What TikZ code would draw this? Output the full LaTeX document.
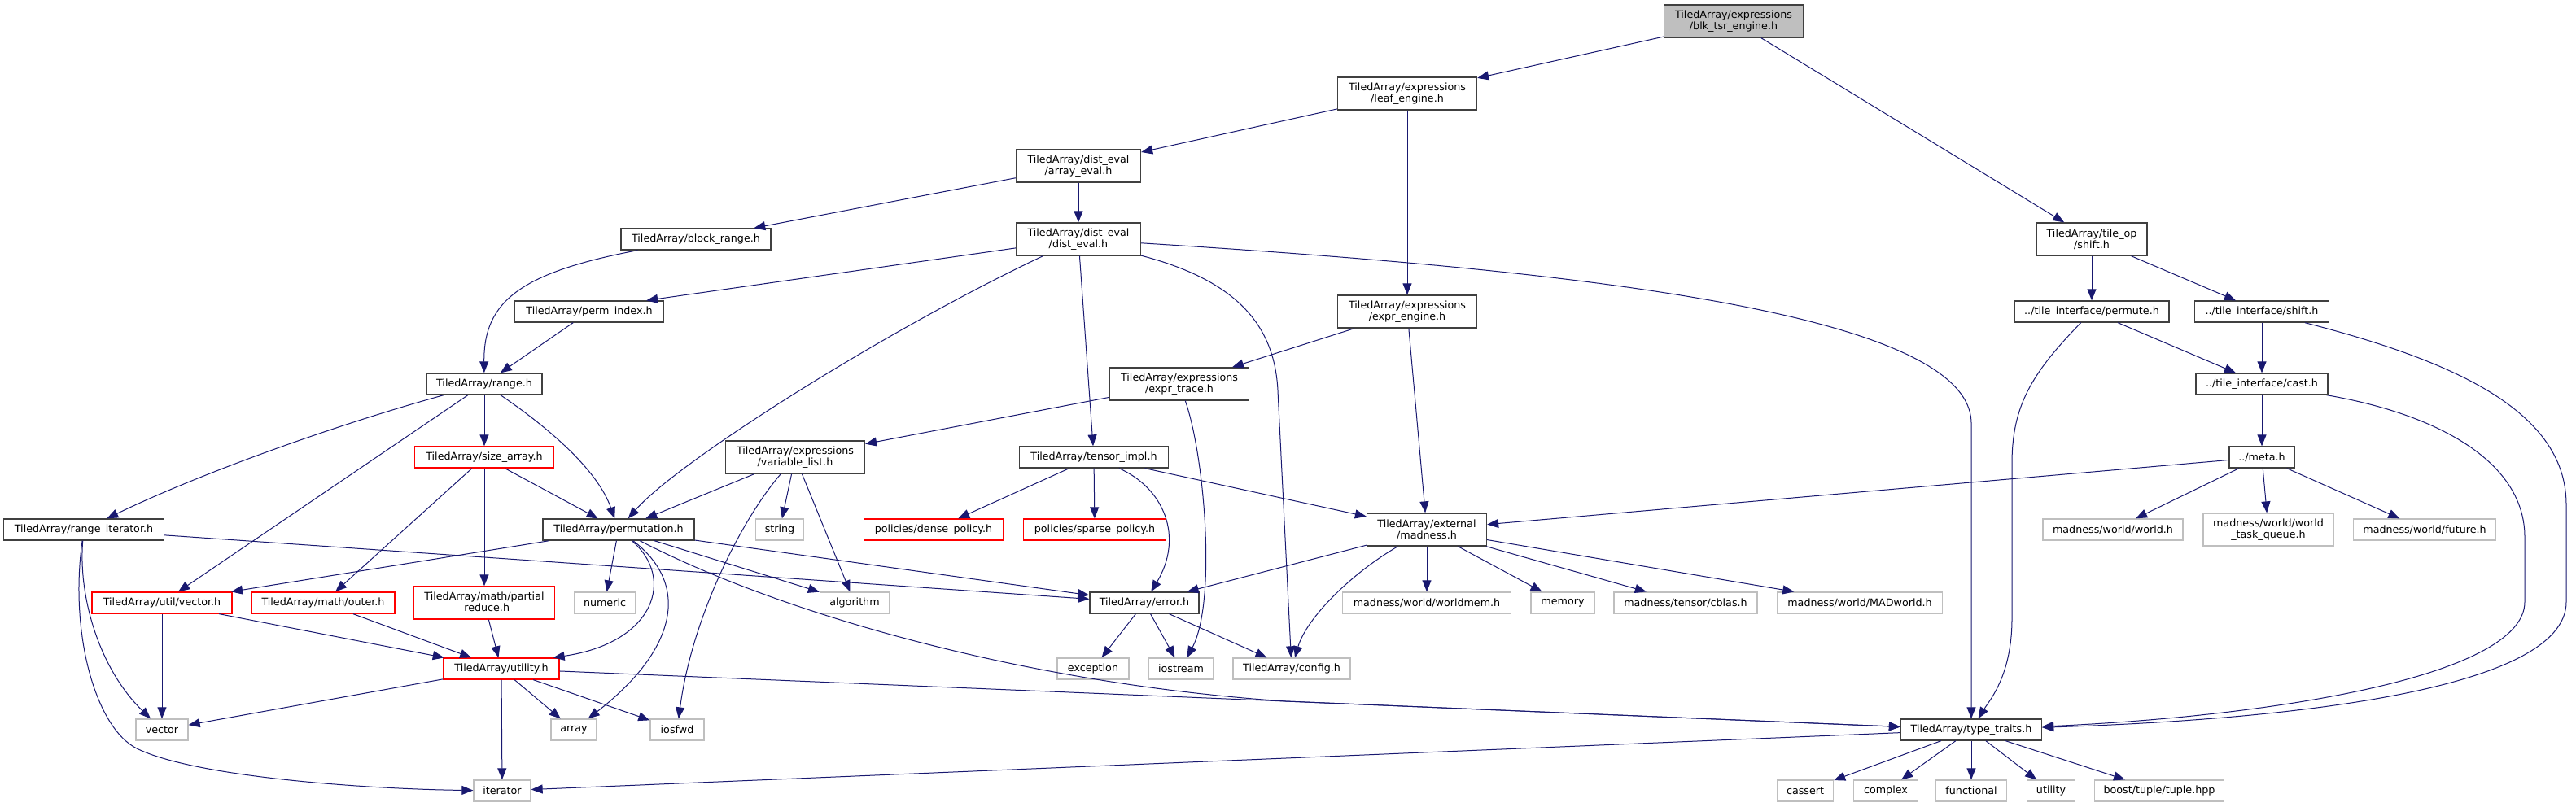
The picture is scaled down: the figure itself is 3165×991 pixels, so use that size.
\documentclass[tikz,border=0pt]{standalone}
\usepackage{fontspec}
\usetikzlibrary{arrows.meta,calc}
\newfontfamily\doxfamily{DejaVu Sans}
\newcommand\doxfont{\doxfamily\fontsize{12.7pt}{14.3pt}\selectfont}
\definecolor{edgeblue}{HTML}{191970}
\definecolor{sysgray}{HTML}{BFBFBF}
\definecolor{rootfill}{HTML}{BFBFBF}
\definecolor{boxborder}{HTML}{404040}
\begin{document}
\begin{tikzpicture}[x=1pt,y=-1pt,
 box/.style={draw=boxborder,line width=1.3pt,fill=white,inner sep=0pt,align=center,font=\doxfont,minimum height=26pt},
 dbl/.style={minimum height=40pt},
 root/.style={fill=rootfill},
 sys/.style={draw=sysgray},
 trunc/.style={draw=red},
 e/.style={draw=edgeblue,line width=1.0pt,-{Triangle[length=14pt,width=11pt]}}]
\fill[white] (0,0) rectangle (3165,991);
\useasboundingbox (0,0) rectangle (3165,991);
% rank 0-3
\node[box,dbl,root,minimum width=171pt] (blk) at (2130,26) {TiledArray/expressions\\/blk\_tsr\_engine.h};
\node[box,dbl,minimum width=171pt] (leaf) at (1729,115) {TiledArray/expressions\\/leaf\_engine.h};
\node[box,dbl,minimum width=153pt] (arrayeval) at (1325,204) {TiledArray/dist\_eval\\/array\_eval.h};
\node[box,minimum width=184pt] (blockrange) at (855,294) {TiledArray/block\_range.h};
\node[box,dbl,minimum width=153pt] (disteval) at (1325,294) {TiledArray/dist\_eval\\/dist\_eval.h};
\node[box,dbl,minimum width=136pt] (tileopshift) at (2570,294) {TiledArray/tile\_op\\/shift.h};
% rank 4
\node[box,minimum width=183pt] (permindex) at (724,383) {TiledArray/perm\_index.h};
\node[box,dbl,minimum width=171pt] (exprengine) at (1729,383) {TiledArray/expressions\\/expr\_engine.h};
\node[box,minimum width=190pt] (permute) at (2570,383) {../tile\_interface/permute.h};
\node[box,minimum width=165pt] (tishift) at (2779,383) {../tile\_interface/shift.h};
% rank 5
\node[box,minimum width=142pt] (range) at (595,472) {TiledArray/range.h};
\node[box,dbl,minimum width=171pt] (exprtrace) at (1449,472) {TiledArray/expressions\\/expr\_trace.h};
\node[box,minimum width=162pt] (cast) at (2779,472) {../tile\_interface/cast.h};
% rank 6
\node[box,trunc,minimum width=171pt] (sizearray) at (595,562) {TiledArray/size\_array.h};
\node[box,dbl,minimum width=171pt] (varlist) at (977,562) {TiledArray/expressions\\/variable\_list.h};
\node[box,minimum width=183pt] (tensorimpl) at (1344,562) {TiledArray/tensor\_impl.h};
\node[box,minimum width=80pt] (meta) at (2779,562) {../meta.h};
% rank 7
\node[box,minimum width=197pt] (rangeiter) at (103,651) {TiledArray/range\_iterator.h};
\node[box,minimum width=186pt] (permutation) at (760,651) {TiledArray/permutation.h};
\node[box,sys,minimum width=59pt] (string) at (958,651) {string};
\node[box,trunc,minimum width=171pt] (dense) at (1147,651) {policies/dense\_policy.h};
\node[box,trunc,minimum width=175pt] (sparse) at (1345,651) {policies/sparse\_policy.h};
\node[box,dbl,minimum width=147pt] (madness) at (1753,651) {TiledArray/external\\/madness.h};
\node[box,sys,minimum width=172pt] (world) at (2596,651) {madness/world/world.h};
\node[box,dbl,sys,minimum width=160pt] (taskqueue) at (2787,651) {madness/world/world\\\_task\_queue.h};
\node[box,sys,minimum width=175pt] (future) at (2979,651) {madness/world/future.h};
% rank 8
\node[box,trunc,minimum width=172pt] (utilvector) at (199,741) {TiledArray/util/vector.h};
\node[box,trunc,minimum width=176pt] (outer) at (397,741) {TiledArray/math/outer.h};
\node[box,dbl,trunc,minimum width=173pt] (partialreduce) at (595,741) {TiledArray/math/partial\\\_reduce.h};
\node[box,sys,minimum width=75pt] (numeric) at (743,741) {numeric};
\node[box,sys,minimum width=85pt] (algorithm) at (1050,741) {algorithm};
\node[box,minimum width=134pt] (error) at (1406,741) {TiledArray/error.h};
\node[box,sys,minimum width=207pt] (worldmem) at (1753,741) {madness/world/worldmem.h};
\node[box,sys,minimum width=78pt] (memory) at (1920,741) {memory};
\node[box,sys,minimum width=176pt] (cblas) at (2071,741) {madness/tensor/cblas.h};
\node[box,sys,minimum width=203pt] (madworld) at (2285,741) {madness/world/MADworld.h};
% rank 9
\node[box,trunc,minimum width=142pt] (utility) at (616,822) {TiledArray/utility.h};
\node[box,sys,minimum width=88pt] (exception) at (1343,822) {exception};
\node[box,sys,minimum width=80pt] (iostream) at (1451,822) {iostream};
\node[box,sys,minimum width=144pt] (config) at (1587,822) {TiledArray/config.h};
% rank 10
\node[box,sys,minimum width=64pt] (vector) at (199,897) {vector};
\node[box,sys,minimum width=56pt] (array) at (705,897) {array};
\node[box,sys,minimum width=66pt] (iosfwd) at (832,897) {iosfwd};
\node[box,minimum width=173pt] (typetraits) at (2422,897) {TiledArray/type\_traits.h};
% rank 11
\node[box,sys,minimum width=70pt] (iterator) at (617,972) {iterator};
\node[box,sys,minimum width=69pt] (cassert) at (2218,972) {cassert};
\node[box,sys,minimum width=79pt] (complex) at (2317,972) {complex};
\node[box,sys,minimum width=87pt] (functional) at (2422,972) {functional};
\node[box,sys,minimum width=59pt] (utilstd) at (2520,972) {utility};
\node[box,sys,minimum width=159pt] (tuple) at (2653,972) {boost/tuple/tuple.hpp};
% edges
\draw[e] (blk) -- (leaf);
\draw[e] (blk) -- (tileopshift);
\draw[e] (leaf) -- (arrayeval);
\draw[e] (leaf) -- (exprengine);
\draw[e] (arrayeval) -- (blockrange);
\draw[e] (arrayeval) -- (disteval);
\draw[e] (blockrange) .. controls (640,335) and (594,370) .. (range);
\draw[e] (disteval) -- ($(permindex.north east)+(-22,0)$);
\draw[e] (disteval) .. controls (1080,410) and (830,570) .. (permutation);
\draw[e] (disteval) -- (tensorimpl);
\draw[e] (disteval) .. controls (1520,345) and (1566,400) .. (1570,480) -- (config);
\draw[e] (disteval) .. controls (1900,330) and (2421,380) .. (2422,520) -- (typetraits);
\draw[e] (tileopshift) -- (permute);
\draw[e] (tileopshift) -- (tishift);
\draw[e] (permindex) -- (range);
\draw[e] (exprengine) -- (exprtrace);
\draw[e] (exprengine) -- (madness);
\draw[e] (permute) -- (cast);
\draw[e] (permute) .. controls (2495,460) and (2472,500) .. (2472,570) -- (2472,760) .. controls (2472,830) and (2445,860) .. (typetraits);
\draw[e] (tishift) -- (cast);
\draw[e] (tishift) .. controls (3000,440) and (3153,500) .. (3153,620) -- (3153,740) .. controls (3153,850) and (2800,885) .. (typetraits);
\draw[e] (range) .. controls (420,520) and (250,580) .. (rangeiter);
\draw[e] (range) -- (utilvector);
\draw[e] (range) -- (sizearray);
\draw[e] (range) .. controls (680,530) and (735,580) .. (permutation);
\draw[e] (exprtrace) -- (varlist);
\draw[e] (exprtrace) .. controls (1480,560) and (1495,740) .. (iostream);
\draw[e] (cast) -- (meta);
\draw[e] (cast) .. controls (3000,510) and (3102,570) .. (3102,660) -- (3102,740) .. controls (3102,830) and (2800,880) .. (typetraits);
\draw[e] (varlist) -- (permutation);
\draw[e] (varlist) -- (string);
\draw[e] (varlist) -- (algorithm);
\draw[e] (varlist) .. controls (910,640) and (850,760) .. (iosfwd);
\draw[e] (sizearray) -- (permutation);
\draw[e] (sizearray) -- (outer);
\draw[e] (sizearray) -- (partialreduce);
\draw[e] (tensorimpl) -- (dense);
\draw[e] (tensorimpl) -- (sparse);
\draw[e] (tensorimpl) .. controls (1430,600) and (1455,660) .. (error);
\draw[e] (tensorimpl) -- (madness);
\draw[e] (meta) -- (madness);
\draw[e] (meta) -- (world);
\draw[e] (meta) -- (taskqueue);
\draw[e] (meta) -- (future);
\draw[e] (rangeiter) -- (error);
\draw[e] (rangeiter) .. controls (96,730) and (120,820) .. (vector);
\draw[e] (rangeiter) .. controls (85,780) and (118,895) .. (168,920) .. controls (238,955) and (450,970) .. (iterator);
\draw[e] (permutation) -- (utilvector);
\draw[e] (permutation) -- (numeric);
\draw[e] (permutation) -- (algorithm);
\draw[e] (permutation) -- (error);
\draw[e] (permutation) .. controls (830,710) and (805,790) .. ($(utility.north east)+(-8,0)$);
\draw[e] (permutation) .. controls (850,720) and (830,800) .. (array);
\draw[e] (permutation) .. controls (950,750) and (1250,840) .. (1580,862) -- (typetraits);
\draw[e] (utility) -- (typetraits);
\draw[e] (utility) -- (vector);
\draw[e] (utility) -- (iterator);
\draw[e] (utility) -- (array);
\draw[e] (utility) -- (iosfwd);
\draw[e] (error) -- (exception);
\draw[e] (error) -- (iostream);
\draw[e] (error) -- (config);
\draw[e] (madness) -- (error);
\draw[e] (madness) .. controls (1660,705) and (1605,760) .. (config);
\draw[e] (madness) -- (worldmem);
\draw[e] (madness) -- (memory);
\draw[e] (madness) -- (cblas);
\draw[e] (madness) -- (madworld);
\draw[e] (utilvector) -- (vector);
\draw[e] (utilvector) -- (utility);
\draw[e] (outer) -- (utility);
\draw[e] (partialreduce) -- (utility);
\draw[e] (typetraits) -- (iterator);
\draw[e] (typetraits) -- (cassert);
\draw[e] (typetraits) -- (complex);
\draw[e] (typetraits) -- (functional);
\draw[e] (typetraits) -- (utilstd);
\draw[e] (typetraits) -- (tuple);
\end{tikzpicture}
\end{document}
